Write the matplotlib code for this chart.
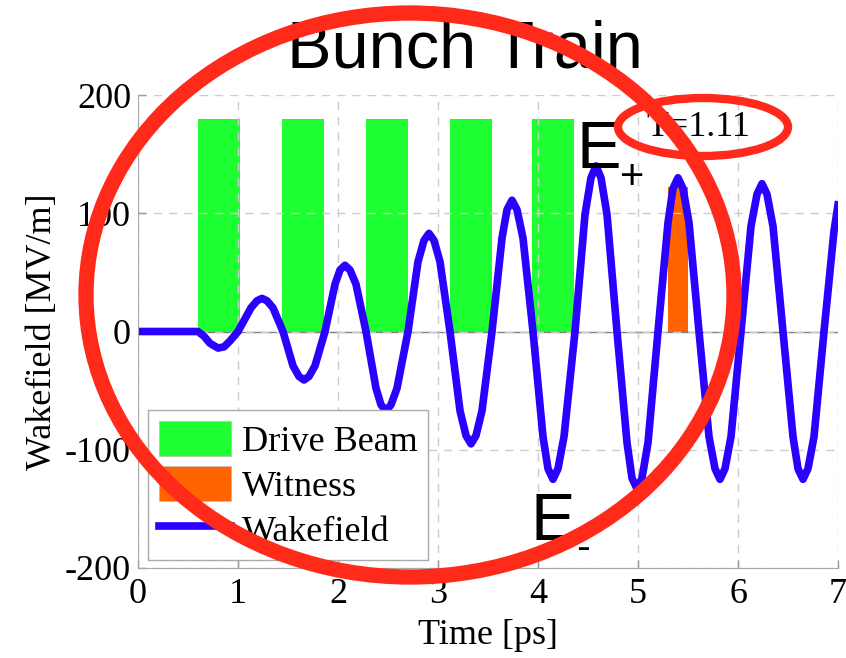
#!/usr/bin/env python3
"""Bunch train wakefield chart with drive beam / witness bunches."""
import matplotlib
matplotlib.use("Agg")
import matplotlib.pyplot as plt
from matplotlib.lines import Line2D
from matplotlib.patches import Ellipse, Patch

# drive beam bunches (centre time [ps], width [ps], height [MV/m])
drive_t = [0.81, 1.65, 2.49, 3.325, 4.15]
drive_w = [0.42, 0.42, 0.42, 0.42, 0.42]
drive_h = [180, 180, 180, 180, 180]

# witness bunch
witness_t = [5.40]
witness_w = [0.20]
witness_h = [122]

# wakefield
wake_t = [0.00, 0.60, 0.66, 0.72, 0.80, 0.86, 0.92, 1.00,
          1.13, 1.19, 1.24, 1.29, 1.35, 1.45,
          1.55, 1.61, 1.66, 1.71, 1.77, 1.87,
          1.97, 2.02, 2.07, 2.12, 2.18, 2.28,
          2.38, 2.43, 2.48, 2.53, 2.59, 2.70,
          2.80, 2.86, 2.91, 2.96, 3.02, 3.12,
          3.22, 3.28, 3.33, 3.38, 3.44, 3.54,
          3.64, 3.69, 3.74, 3.79, 3.85, 3.95,
          4.05, 4.10, 4.15, 4.20, 4.26, 4.37,
          4.47, 4.53, 4.58, 4.63, 4.69, 4.79,
          4.89, 4.94, 4.99, 5.04, 5.10, 5.20,
          5.30, 5.35, 5.40, 5.45, 5.51, 5.61,
          5.71, 5.77, 5.82, 5.87, 5.93, 6.03,
          6.13, 6.19, 6.24, 6.29, 6.35, 6.45,
          6.55, 6.60, 6.65, 6.70, 6.76, 6.86,
          6.96, 7.00]
wake_v = [0, 0, -4, -10, -14, -13, -8, 0,
          20, 26, 28, 26, 20, 0,
          -29, -38, -41, -38, -29, 0,
          40, 52, 56, 52, 40, 0,
          -48, -62, -67, -62, -48, 0,
          59, 77, 83, 77, 59, 0,
          -67, -88, -95, -88, -67, 0,
          79, 103, 111, 103, 79, 0,
          -89, -116, -125, -116, -89, 0,
          99, 130, 140, 130, 99, 0,
          -94, -124, -133, -124, -94, 0,
          92, 121, 130, 121, 92, 0,
          -89, -116, -125, -116, -89, 0,
          89, 116, 125, 116, 89, 0,
          -89, -116, -125, -116, -89, 0,
          85, 107]

x_ticks = [0, 1, 2, 3, 4, 5, 6, 7]
y_ticks = [-200, -100, 0, 100, 200]

GREEN = "#1eff32"
ORANGE = "#ff6400"
BLUE = "#2a00ff"
RED = "#ff2a1a"
SERIF = "Liberation Serif"
SANS = "Liberation Sans"

W, H = 846, 658


def fx(px):
    return px / W


def fy(py):
    return 1 - py / H


plt.rcParams["axes.unicode_minus"] = False

fig = plt.figure(figsize=(W / 100, H / 100), dpi=100)
ax = fig.add_axes([fx(138), fy(568), 700 / W, 473 / H])

ax.bar(drive_t, drive_h, width=drive_w, color=GREEN, zorder=1)
ax.bar(witness_t, witness_h, width=witness_w, color=ORANGE, zorder=1)
ax.axhline(0, color="#808080", lw=1, zorder=1.5)
ax.plot(wake_t, wake_v, color=BLUE, lw=5.5, solid_joinstyle="round", zorder=2)

ax.set_xlim(0, 7)
ax.set_ylim(-200, 200)
ax.set_xticks(x_ticks)
ax.set_yticks(y_ticks)
ax.set_xticklabels([str(v) for v in x_ticks], fontfamily=SERIF, fontsize=26)
ax.set_yticklabels([str(v) for v in y_ticks], fontfamily=SERIF, fontsize=26)
ax.tick_params(direction="in", length=6, color="#999999", width=1)
ax.tick_params(axis="x", pad=7)
ax.tick_params(axis="y", pad=5)
ax.grid(True, ls=(0, (6, 5)), color="#cccccc", lw=1)
for side in ["top", "right"]:
    ax.spines[side].set_visible(False)
for side in ["left", "bottom"]:
    ax.spines[side].set_color("#aaaaaa")
ax.set_xlabel("Time [ps]", fontfamily=SERIF, fontsize=26, labelpad=6)
ax.set_ylabel("Wakefield [MV/m]", fontfamily=SERIF, fontsize=26, labelpad=4)

handles = [Patch(facecolor=GREEN, edgecolor="#bbbbbb", lw=0.5),
           Patch(facecolor=ORANGE, edgecolor="#bbbbbb", lw=0.5),
           Line2D([], [], color=BLUE, lw=5.5)]
leg = ax.legend(handles, ["Drive Beam", "Witness", "Wakefield"], loc="lower left",
                bbox_to_anchor=(0.014, 0.017), borderaxespad=0, fancybox=False,
                framealpha=1, edgecolor="#aaaaaa", handlelength=2.0, handleheight=1.12,
                handletextpad=0.3, labelspacing=0.2, borderpad=0.3,
                prop={"family": SERIF, "size": 26})
leg.get_frame().set_linewidth(1)

# annotations
fig.text(fx(465), fy(67), "Bunch Train", family=SANS, fontsize=48,
         ha="center", va="baseline")
fig.text(fx(576), fy(168), "E", family=SANS, fontsize=48, ha="left", va="baseline")
fig.text(fx(620), fy(189), "+", family=SANS, fontsize=30, ha="left", va="baseline")
fig.text(fx(530), fy(540), "E", family=SANS, fontsize=48, ha="left", va="baseline")
fig.text(fx(576), fy(560), "-", family=SANS, fontsize=30, ha="left", va="baseline")
fig.text(fx(698), fy(136), "T=1.11", family=SERIF, fontsize=26, ha="center", va="baseline")

fig.add_artist(Ellipse((fx(410), fy(295)), 648 / W, 564 / H, transform=fig.transFigure,
                       fill=False, edgecolor=RED, lw=11, zorder=10))
fig.add_artist(Ellipse((fx(703), fy(127)), 170 / W, 58 / H, transform=fig.transFigure,
                       fill=False, edgecolor=RED, lw=6, zorder=10))

fig.savefig("out.png", dpi=100)
plt.close(fig)
